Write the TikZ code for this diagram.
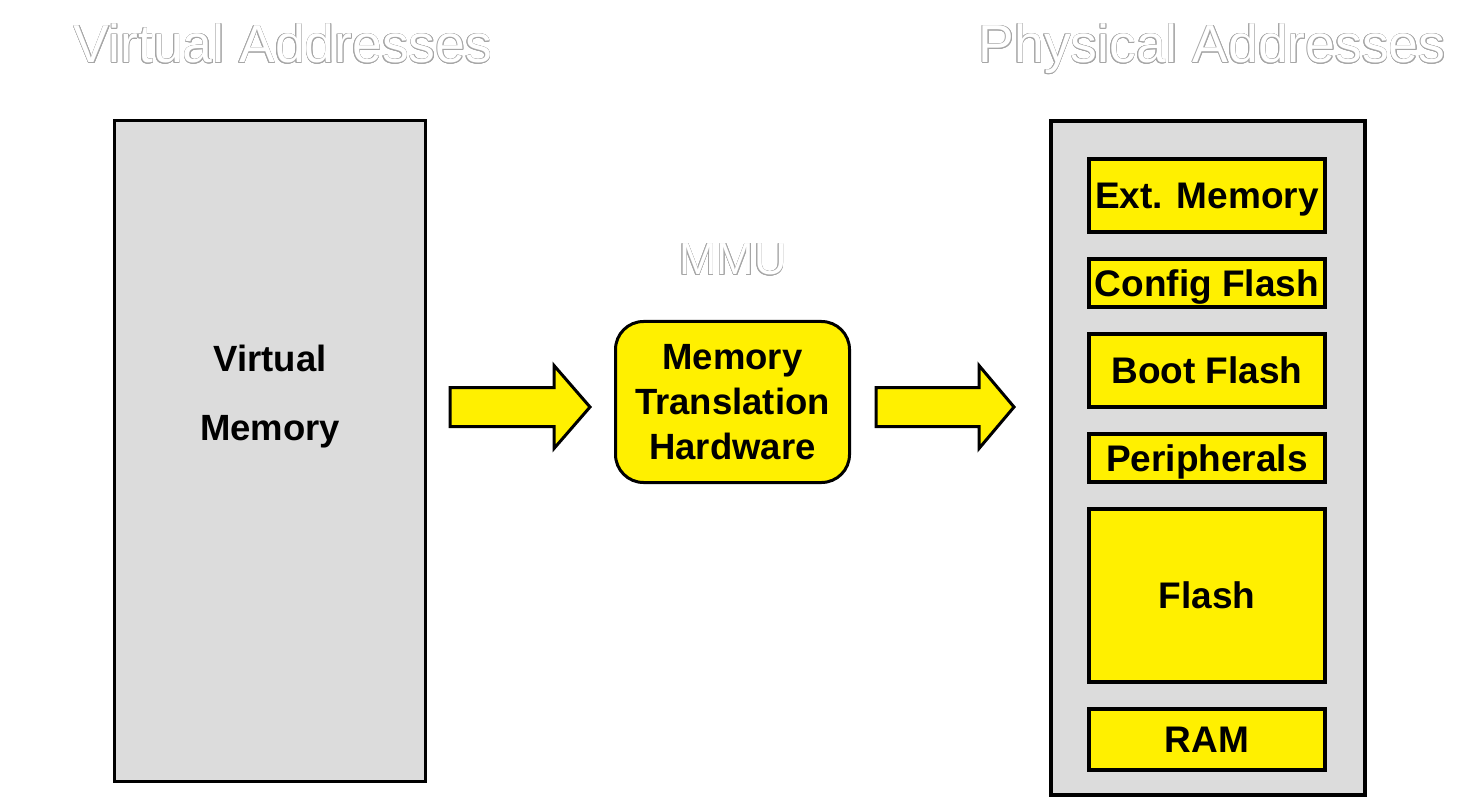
\documentclass[tikz,border=0pt]{standalone}
\usepackage{fontspec}
\setmainfont{Liberation Sans}
\usepackage{contour}
\contourlength{0.6pt}
\definecolor{memyellow}{RGB}{255,240,0}
\definecolor{memgray}{RGB}{220,220,220}
\tikzset{panel/.style 2 args={draw=black, line width=#1, fill=memgray, inner sep=0pt, anchor=north west},
    block/.style 2 args={draw=black, line width=4pt, fill=memyellow, inner sep=0pt, anchor=north west,
      minimum width=236pt, minimum height=#1, text height=26.5pt, text depth=0pt,
      font=\fontsize{37}{44}\selectfont\bfseries},
    ghost/.style={anchor=base, font=\fontsize{#1}{#1}\selectfont},
    fatarrow/.style={draw=black, line width=3pt, fill=memyellow, line join=miter}}
\newcommand{\ghosttext}[1]{\contour{black!35}{\textcolor{white}{#1}}}

\begin{document}
\begin{tikzpicture}[x=1pt, y=-1pt]
    \useasboundingbox (0,0) rectangle (1477,799);
    %Titles (white, outlined):
    \node[ghost=53.5] (vtitle) at (283,63) {\ghosttext{Virtual Addresses}};
    \node[ghost=53.5] (ptitle) at (1212,63) {\ghosttext{Physical Addresses}};
    \node[ghost=45] (mmutitle) at (733,275) {\ghosttext{MMU}};
    %Virtual side:
    \node[panel={3pt}{}, minimum width=311pt, minimum height=661pt] (vmem) at (113,119) {};
    \node[align=center, font=\fontsize{36.5}{69}\selectfont\bfseries] (vlabel) at (270,397) {Virtual\\Memory};
    %Translation box:
    \node[draw=black, line width=3pt, fill=memyellow, rounded corners=28pt, minimum width=234pt, minimum height=161pt,
        align=center, inner sep=0pt, font=\fontsize{36.5}{45}\selectfont\bfseries] (mmu) at (732.5,402) {Memory\\Translation\\Hardware};
    %Arrows (start and tip):
    \coordinate (a1) at (450,407);
    \coordinate (a2) at (876,407);
    \draw[fatarrow] (a1) ++(0,-19.5) -- ++(104,0) -- ++(0,-22) -- ++(36,41.5) -- ++(-36,41.5) -- ++(0,-22) -- ++(-104,0) -- cycle;
    \draw[fatarrow] (a2) ++(0,-19.5) -- ++(103,0) -- ++(0,-22) -- ++(35,41.5) -- ++(-35,41.5) -- ++(0,-22) -- ++(-103,0) -- cycle;
    %Physical side:
    \node[panel={4pt}{}, minimum width=314pt, minimum height=674pt] (pmem) at (1049,119) {};
    \node[block={73pt}{}] (ext) at (1087,157) {Ext. Memory};
    \node[block={48pt}{}] (config) at (1087,257) {Config Flash};
    \node[block={73pt}{}] (boot) at (1087,332) {Boot Flash};
    \node[block={48pt}{}] (periph) at (1087,432) {Peripherals};
    \node[block={173pt}{}] (flash) at (1087,507) {Flash};
    \node[block={61pt}{}] (ram) at (1087,707) {RAM};
\end{tikzpicture}
\end{document}
